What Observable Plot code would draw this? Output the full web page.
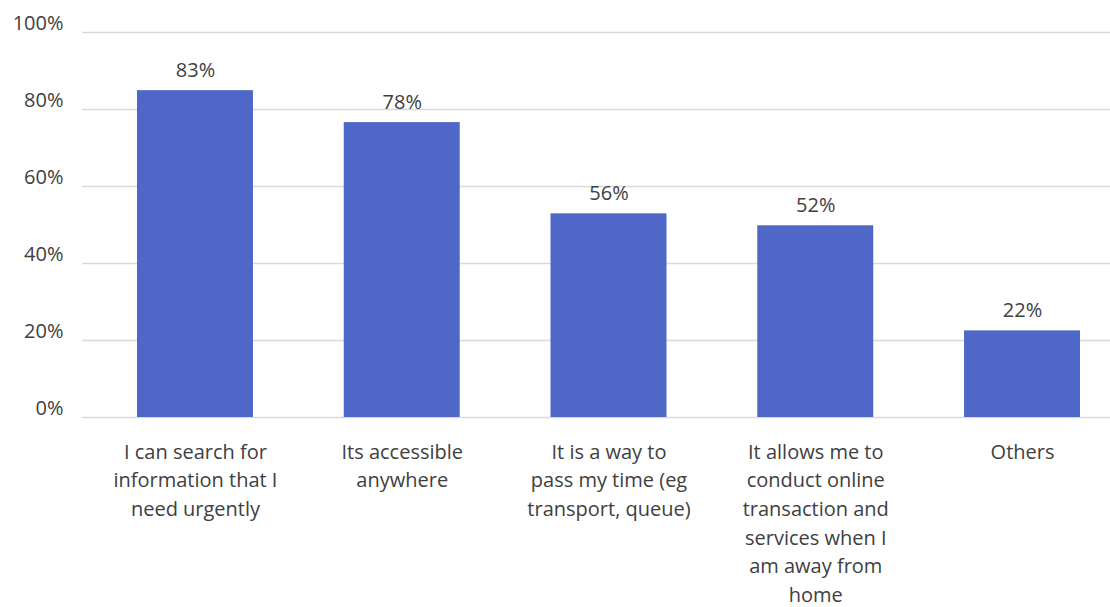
<!DOCTYPE html>
<html>
<head>
<meta charset="utf-8">
<script src="https://cdn.jsdelivr.net/npm/d3@7"></script>
<script src="https://cdn.jsdelivr.net/npm/@observablehq/plot@0.6"></script>
<style>
  html, body { margin: 0; padding: 0; background: #fff; }
  #chart svg { display: block; }
</style>
</head>
<body>
<div id="chart"></div>
<script>
const categories = [
  "I can search for information that I need urgently",
  "Its accessible anywhere",
  "It is a way to pass my time (eg transport, queue)",
  "It allows me to conduct online transaction and services when I am away from home",
  "Others"
];
const categoryLines = [
  "I can search for\ninformation that I\nneed urgently",
  "Its accessible\nanywhere",
  "It is a way to\npass my time (eg\ntransport, queue)",
  "It allows me to\nconduct online\ntransaction and\nservices when I\nam away from\nhome",
  "Others"
];
const barValues = [84.9, 76.6, 52.9, 49.8, 22.5];
const valueLabels = ["83%", "78%", "56%", "52%", "22%"];
const yTicks = [0, 20, 40, 60, 80, 100];

const data = categories.map((c, i) => ({category: c, value: barValues[i], label: valueLabels[i]}));
const lineOf = new Map(categories.map((c, i) => [c, categoryLines[i]]));

const chart = Plot.plot({
  width: 1110,
  height: 607,
  marginLeft: 82,
  marginRight: 0,
  marginTop: 32,
  marginBottom: 190,
  style: {fontFamily: "'Open Sans', Lato, sans-serif", color: "#404040", background: "#fff"},
  x: {domain: categories, range: [91.6, 1125.4], paddingInner: 0.439, paddingOuter: 0.2195, round: false},
  y: {domain: [0, 100]},
  marks: [
    Plot.gridY(yTicks, {stroke: "#d9d9d9", strokeOpacity: 1, strokeWidth: 1.5}),
    Plot.barY(data, {x: "category", y: "value", fill: "#4F68C8"}),
    Plot.text(data, {x: "category", y: "value", text: "label", dy: -20, fontSize: 20, fill: "#404040"}),
    Plot.axisY(yTicks, {tickSize: 0, tickPadding: 19, dy: -9, fontSize: 20, fill: "#404040", tickFormat: d => d + "%", label: null}),
    Plot.axisX({tickSize: 0, tickPadding: 21, fontSize: 20, lineHeight: 1.43, fill: "#404040", lineAnchor: "top", tickFormat: d => lineOf.get(d), label: null})
  ]
});
document.getElementById("chart").appendChild(chart);
</script>
</body>
</html>
